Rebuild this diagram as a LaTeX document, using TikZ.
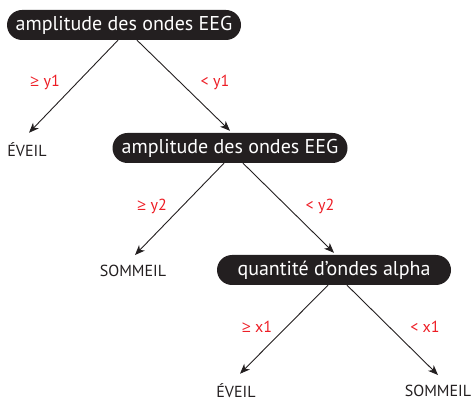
\documentclass[tikz,border=0pt]{standalone}
\usepackage{fontspec}
\setmainfont{PT Sans}
\newfontfamily\symfont{Open Sans}
\usetikzlibrary{arrows.meta}
\definecolor{boxblack}{HTML}{231F20}
\definecolor{lblred}{HTML}{ED1C24}
\newcommand{\geqsym}{{\symfont ≥}}
\tikzset{
  pill/.style={fill=boxblack, text=white, rounded corners=15pt, minimum height=30pt, inner xsep=6pt, inner ysep=0pt, font=\fontsize{20}{22}\selectfont},
  leaf/.style={text=boxblack, font=\fontsize{16}{18}\selectfont, inner sep=0pt},
  cond/.style={text=lblred, font=\fontsize{16}{18}\selectfont, inner sep=1pt},
  arr/.style={-{Stealth[length=10pt,width=8pt,inset=3pt]}, line width=0.9pt, color=boxblack}
}
\begin{document}
\begin{tikzpicture}[x=1pt,y=-1pt]
\useasboundingbox (0,0) rectangle (471,403);
\node[pill, minimum width=234pt] (b1) at (124,25) {amplitude des ondes EEG};
\node[pill, minimum width=235pt] (b2) at (230,148) {amplitude des ondes EEG};
\node[pill, minimum width=234pt] (b3) at (334,270) {quantité d’ondes alpha};
\node[leaf] (l1) at (27,150) {ÉVEIL};
\node[leaf] (l2) at (133,271) {SOMMEIL};
\node[leaf] (l3) at (236,391) {ÉVEIL};
\node[leaf] (l4) at (438,391) {SOMMEIL};
\node[cond] (c1) at (45,82) {\geqsym{} y1};
\node[cond] (c2) at (215,82) {< y1};
\node[cond] (c3) at (152,206) {\geqsym{} y2};
\node[cond] (c4) at (320,206) {< y2};
\node[cond] (c5) at (257,327) {\geqsym{} x1};
\node[cond] (c6) at (425,327) {< x1};
\draw[arr] ([xshift=-6pt]b1.south) -- ([xshift=2pt,yshift=10pt]l1.north);
\draw[arr] ([xshift=13pt]b1.south) -- ([yshift=2pt]b2.north);
\draw[arr] ([xshift=-6pt]b2.south) -- ([xshift=2pt,yshift=10pt]l2.north);
\draw[arr] ([xshift=13pt]b2.south) -- ([yshift=2pt]b3.north);
\draw[arr] ([xshift=-6pt]b3.south) -- ([xshift=4pt,yshift=10pt]l3.north);
\draw[arr] ([xshift=13pt]b3.south) -- ([xshift=0pt,yshift=10pt]l4.north);
\end{tikzpicture}
\end{document}
